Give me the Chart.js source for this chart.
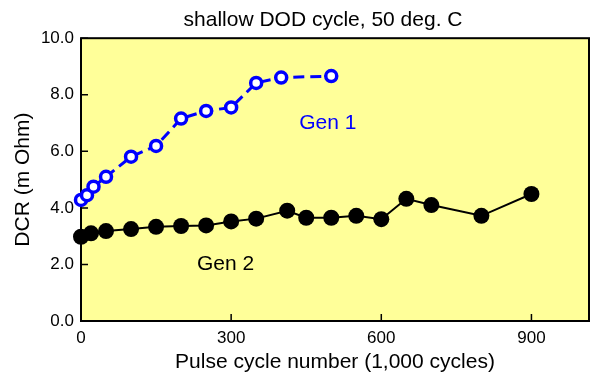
<!DOCTYPE html>
<html>
<head>
<meta charset="utf-8">
<script src="https://cdn.jsdelivr.net/npm/chart.js@4/dist/chart.umd.min.js"></script>
<style>
  html, body { margin: 0; padding: 0; background: #ffffff; }
  #wrap { width: 594px; height: 379px; }
</style>
</head>
<body>
<div id="wrap"><canvas id="c" width="594" height="379"></canvas></div>
<script>
// ---- data ----
const gen1Cycles = [0, 12, 25, 50, 100, 150, 200, 250, 300, 350, 400, 500];
const gen1DCR    = [4.28, 4.45, 4.75, 5.1, 5.81, 6.19, 7.16, 7.43, 7.55, 8.42, 8.61, 8.66];
const gen2Cycles = [0, 20, 50, 100, 150, 200, 250, 300, 350, 412, 450, 500, 550, 600, 650, 700, 800, 900];
const gen2DCR    = [2.98, 3.1, 3.18, 3.25, 3.33, 3.36, 3.38, 3.52, 3.62, 3.9, 3.65, 3.65, 3.72, 3.6, 4.32, 4.1, 3.72, 4.49];
const xTickValues = [0, 300, 600, 900];
const yTickValues = [0, 2, 4, 6, 8, 10];
const seriesNames = ['Gen 1', 'Gen 2'];
const chartTitle = 'shallow DOD cycle, 50 deg. C';
const xAxisTitle = 'Pulse cycle number (1,000 cycles)';
const yAxisTitle = 'DCR (m Ohm)';
// label anchor points (data units)
const labelAnchors = [{x: 493, y: 7.0}, {x: 289, y: 2.0}];

const FONT = "'Liberation Sans', Arial, Helvetica, sans-serif";
const BLUE = '#0000ff';

const toPts = (xs, ys) => xs.map((x, i) => ({x: x, y: ys[i]}));

const framePlugin = {
  id: 'frame',
  afterLayout(chart) {
    // the reference title sits a little left of the plot centre
    if (chart.titleBlock) { chart.titleBlock.left -= 24; }
  },
  beforeDraw(chart) {
    const a = chart.chartArea, ctx = chart.ctx;
    ctx.save();
    ctx.fillStyle = '#ffff99';
    ctx.fillRect(a.left, a.top, a.right - a.left, a.bottom - a.top);
    ctx.restore();
  },
  beforeDatasetsDraw(chart) {
    const a = chart.chartArea, ctx = chart.ctx;
    const xs = chart.scales.x, ys = chart.scales.y;
    ctx.save();
    ctx.strokeStyle = '#000000';
    ctx.lineWidth = 2;
    ctx.strokeRect(a.left, a.top, a.right - a.left, a.bottom - a.top);
    ctx.lineWidth = 1.5;
    ctx.beginPath();
    xTickValues.forEach(v => {
      const px = xs.getPixelForValue(v);
      ctx.moveTo(px, a.bottom);
      ctx.lineTo(px, a.bottom - 7);
    });
    yTickValues.forEach(v => {
      const py = ys.getPixelForValue(v);
      ctx.moveTo(a.left, py);
      ctx.lineTo(a.left + 7, py);
    });
    ctx.stroke();
    ctx.restore();
  },
  afterDatasetsDraw(chart) {
    const ctx = chart.ctx;
    const xs = chart.scales.x, ys = chart.scales.y;
    ctx.save();
    ctx.font = '21px ' + FONT;
    ctx.textAlign = 'center';
    ctx.textBaseline = 'middle';
    const colors = [BLUE, '#000000'];
    seriesNames.forEach((name, i) => {
      ctx.fillStyle = colors[i];
      ctx.fillText(name, xs.getPixelForValue(labelAnchors[i].x), ys.getPixelForValue(labelAnchors[i].y));
    });
    ctx.restore();
  }
};

new Chart(document.getElementById('c'), {
  type: 'line',
  data: {
    datasets: [
      {
        label: seriesNames[0],
        data: toPts(gen1Cycles, gen1DCR),
        borderColor: BLUE,
        borderWidth: 3,
        borderDash: [11, 6],
        pointRadius: 5.5,
        pointBorderWidth: 3.5,
        pointBackgroundColor: '#ffffff',
        pointBorderColor: BLUE,
        tension: 0,
        fill: false,
        clip: false
      },
      {
        label: seriesNames[1],
        data: toPts(gen2Cycles, gen2DCR),
        borderColor: '#000000',
        borderWidth: 2,
        pointRadius: 8,
        pointBorderWidth: 0,
        pointBackgroundColor: '#000000',
        pointBorderColor: '#000000',
        tension: 0,
        fill: false,
        clip: false
      }
    ]
  },
  options: {
    responsive: false,
    animation: false,
    devicePixelRatio: 1,
    layout: { autoPadding: false, padding: { left: 0, right: 5, top: 0, bottom: 0 } },
    plugins: {
      legend: { display: false },
      tooltip: { enabled: false },
      title: {
        display: true,
        text: chartTitle,
        fullSize: false,
        color: '#000000',
        font: { family: FONT, size: 21, weight: 'normal', lineHeight: 1.2 },
        padding: { top: 8, bottom: 5 }
      }
    },
    scales: {
      x: {
        type: 'linear',
        min: 0,
        max: 1015,
        afterBuildTicks: s => { s.ticks = xTickValues.map(v => ({value: v})); },
        afterFit: s => { s.height = 58; },
        grid: { display: false, drawTicks: false },
        border: { display: false },
        ticks: {
          color: '#000000',
          padding: 7,
          maxRotation: 0,
          font: { family: FONT, size: 17 },
          callback: v => String(v)
        },
        title: {
          display: true,
          text: xAxisTitle,
          color: '#000000',
          font: { family: FONT, size: 21 },
          padding: { top: 0, bottom: 4 }
        }
      },
      y: {
        type: 'linear',
        min: 0,
        max: 10,
        afterBuildTicks: s => { s.ticks = yTickValues.map(v => ({value: v})); },
        afterFit: s => { s.width = 81; },
        grid: { display: false, drawTicks: false },
        border: { display: false },
        ticks: {
          color: '#000000',
          padding: 7,
          font: { family: FONT, size: 17 },
          callback: v => Number(v).toFixed(1)
        },
        title: {
          display: true,
          text: yAxisTitle,
          color: '#000000',
          font: { family: FONT, size: 21 },
          padding: { top: 11, bottom: 0 }
        }
      }
    }
  },
  plugins: [framePlugin]
});
</script>
</body>
</html>
